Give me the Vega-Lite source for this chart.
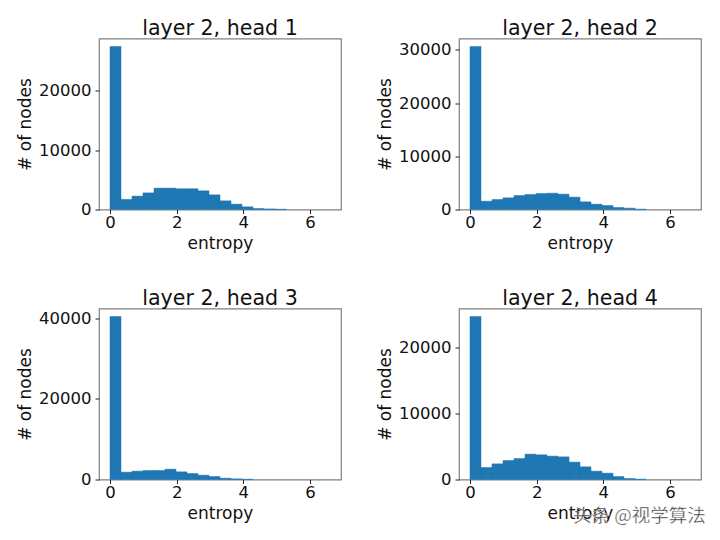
{
  "$schema": "https://vega.github.io/schema/vega-lite/v6.json",
  "background": "white",
  "padding": {"left": 15, "top": 18.5, "right": 5, "bottom": 5},
  "bounds": "flush",
  "datasets": {
    "hist": [
      {"head":1,"start":0,"end":0.33,"count":27470},{"head":1,"start":0.33,"end":0.66,"count":1700},{"head":1,"start":0.66,"end":0.99,"count":2250},{"head":1,"start":0.99,"end":1.32,"count":2800},{"head":1,"start":1.32,"end":1.65,"count":3600},{"head":1,"start":1.65,"end":1.98,"count":3600},{"head":1,"start":1.98,"end":2.31,"count":3500},{"head":1,"start":2.31,"end":2.64,"count":3500},{"head":1,"start":2.64,"end":2.97,"count":3150},{"head":1,"start":2.97,"end":3.3,"count":2470},{"head":1,"start":3.3,"end":3.63,"count":1460},{"head":1,"start":3.63,"end":3.96,"count":900},{"head":1,"start":3.96,"end":4.29,"count":450},{"head":1,"start":4.29,"end":4.62,"count":170},{"head":1,"start":4.62,"end":4.95,"count":100},{"head":1,"start":4.95,"end":5.28,"count":50},
      {"head":2,"start":0,"end":0.33,"count":30630},{"head":2,"start":0.33,"end":0.66,"count":1560},{"head":2,"start":0.66,"end":0.99,"count":1880},{"head":2,"start":0.99,"end":1.32,"count":2190},{"head":2,"start":1.32,"end":1.65,"count":2630},{"head":2,"start":1.65,"end":1.98,"count":2820},{"head":2,"start":1.98,"end":2.31,"count":3000},{"head":2,"start":2.31,"end":2.64,"count":3060},{"head":2,"start":2.64,"end":2.97,"count":2880},{"head":2,"start":2.97,"end":3.3,"count":2320},{"head":2,"start":3.3,"end":3.63,"count":1440},{"head":2,"start":3.63,"end":3.96,"count":1000},{"head":2,"start":3.96,"end":4.29,"count":750},{"head":2,"start":4.29,"end":4.62,"count":375},{"head":2,"start":4.62,"end":4.95,"count":250},{"head":2,"start":4.95,"end":5.28,"count":60},
      {"head":3,"start":0,"end":0.33,"count":40400},{"head":3,"start":0.33,"end":0.66,"count":1820},{"head":3,"start":0.66,"end":0.99,"count":2070},{"head":3,"start":0.99,"end":1.32,"count":2230},{"head":3,"start":1.32,"end":1.65,"count":2230},{"head":3,"start":1.65,"end":1.98,"count":2560},{"head":3,"start":1.98,"end":2.31,"count":1900},{"head":3,"start":2.31,"end":2.64,"count":1490},{"head":3,"start":2.64,"end":2.97,"count":1070},{"head":3,"start":2.97,"end":3.3,"count":740},{"head":3,"start":3.3,"end":3.63,"count":330},{"head":3,"start":3.63,"end":3.96,"count":165},{"head":3,"start":3.96,"end":4.29,"count":80},
      {"head":4,"start":0,"end":0.33,"count":24700},{"head":4,"start":0.33,"end":0.66,"count":1820},{"head":4,"start":0.66,"end":0.99,"count":2370},{"head":4,"start":0.99,"end":1.32,"count":2880},{"head":4,"start":1.32,"end":1.65,"count":3180},{"head":4,"start":1.65,"end":1.98,"count":3840},{"head":4,"start":1.98,"end":2.31,"count":3740},{"head":4,"start":2.31,"end":2.64,"count":3540},{"head":4,"start":2.64,"end":2.97,"count":3430},{"head":4,"start":2.97,"end":3.3,"count":2630},{"head":4,"start":3.3,"end":3.63,"count":1920},{"head":4,"start":3.63,"end":3.96,"count":1260},{"head":4,"start":3.96,"end":4.29,"count":960},{"head":4,"start":4.29,"end":4.62,"count":450},{"head":4,"start":4.62,"end":4.95,"count":150},{"head":4,"start":4.95,"end":5.28,"count":60}
    ],
    "watermark": [{"x": 5.08, "y": -5600, "label": "头条 @视学算法"}]
  },
  "columns": 2,
  "spacing": {"column": 118, "row": 99},
  "concat": [
    {
      "width": 242, "height": 171,
      "title": "layer 2, head 1",
      "data": {"name": "hist"},
      "transform": [{"filter": "datum.head == 1"}],
      "mark": {"type": "bar", "color": "#1f77b4", "stroke": "#1f77b4", "strokeWidth": 0.5},
      "encoding": {
        "x": {"field": "start", "type": "quantitative", "title": "entropy", "scale": {"domain": [-0.33, 6.93], "nice": false, "zero": false}, "axis": {"values": [0, 2, 4, 6]}},
        "x2": {"field": "end"},
        "y": {"field": "count", "type": "quantitative", "title": "# of nodes", "scale": {"domain": [0, 28820], "nice": false}, "axis": {"values": [0, 10000, 20000], "format": "d"}},
        "y2": {"datum": 0}
      }
    },
    {
      "width": 242, "height": 171,
      "title": "layer 2, head 2",
      "data": {"name": "hist"},
      "transform": [{"filter": "datum.head == 2"}],
      "mark": {"type": "bar", "color": "#1f77b4", "stroke": "#1f77b4", "strokeWidth": 0.5},
      "encoding": {
        "x": {"field": "start", "type": "quantitative", "title": "entropy", "scale": {"domain": [-0.33, 6.93], "nice": false, "zero": false}, "axis": {"values": [0, 2, 4, 6]}},
        "x2": {"field": "end"},
        "y": {"field": "count", "type": "quantitative", "title": "# of nodes", "scale": {"domain": [0, 32130], "nice": false}, "axis": {"values": [0, 10000, 20000, 30000], "format": "d"}},
        "y2": {"datum": 0}
      }
    },
    {
      "width": 242, "height": 171,
      "title": "layer 2, head 3",
      "data": {"name": "hist"},
      "transform": [{"filter": "datum.head == 3"}],
      "mark": {"type": "bar", "color": "#1f77b4", "stroke": "#1f77b4", "strokeWidth": 0.5},
      "encoding": {
        "x": {"field": "start", "type": "quantitative", "title": "entropy", "scale": {"domain": [-0.33, 6.93], "nice": false, "zero": false}, "axis": {"values": [0, 2, 4, 6]}},
        "x2": {"field": "end"},
        "y": {"field": "count", "type": "quantitative", "title": "# of nodes", "scale": {"domain": [0, 42400], "nice": false}, "axis": {"values": [0, 20000, 40000], "format": "d"}},
        "y2": {"datum": 0}
      }
    },
    {
      "width": 242, "height": 171,
      "title": "layer 2, head 4",
      "layer": [
        {
          "data": {"name": "hist"},
          "transform": [{"filter": "datum.head == 4"}],
          "mark": {"type": "bar", "color": "#1f77b4", "stroke": "#1f77b4", "strokeWidth": 0.5},
          "encoding": {
            "x": {"field": "start", "type": "quantitative", "title": "entropy", "scale": {"domain": [-0.33, 6.93], "nice": false, "zero": false}, "axis": {"values": [0, 2, 4, 6]}},
            "x2": {"field": "end"},
            "y": {"field": "count", "type": "quantitative", "title": "# of nodes", "scale": {"domain": [0, 25900], "nice": false}, "axis": {"values": [0, 10000, 20000], "format": "d"}},
            "y2": {"datum": 0}
          }
        },
        {
          "data": {"name": "watermark"},
          "mark": {"type": "text", "font": "Noto Sans CJK SC", "fontSize": 18.5, "color": "#333333", "stroke": "white", "strokeWidth": 0.4},
          "encoding": {
            "x": {"field": "x", "type": "quantitative"},
            "y": {"field": "y", "type": "quantitative"},
            "text": {"field": "label"}
          }
        }
      ]
    }
  ],
  "config": {
    "font": "DejaVu Sans",
    "view": {"stroke": "#808080", "strokeWidth": 1.2},
    "title": {"fontSize": 20.6, "fontWeight": "normal", "color": "#111111", "offset": -1.5},
    "axisX": {"labelPadding": 1, "titlePadding": 4.5},
    "axisY": {"labelPadding": 4},
    "axis": {
      "grid": false,
      "domain": false,
      "tickColor": "#222222",
      "tickSize": 4,
      "tickWidth": 1,
      "labelFontSize": 16.5,
      "labelColor": "#111111",
      "labelOverlap": false,
      "titleFontSize": 17,
      "titleFontWeight": "normal",
      "titleColor": "#111111"
    }
  }
}
